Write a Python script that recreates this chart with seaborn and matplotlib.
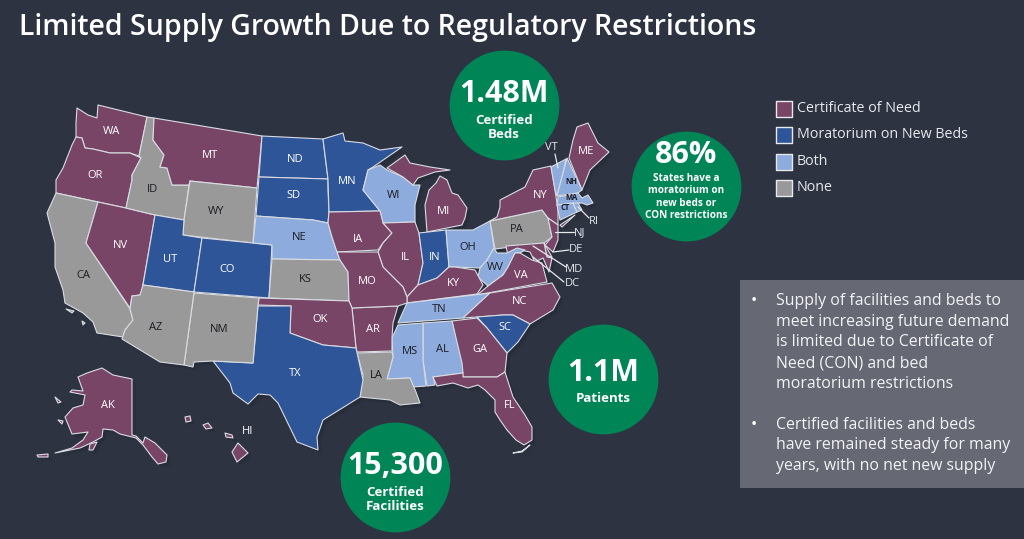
import matplotlib
matplotlib.use("Agg")
import matplotlib.pyplot as plt
import pandas as pd
import seaborn as sns

# ── Config ──────────────────────────────────────────────
sns.set_theme(style="white")
plt.rcParams["font.family"] = ["Open Sans", "DejaVu Sans"]

BG = "#2d3341"
COLORS = {
    "Certificate of Need": "#794567",
    "Moratorium on New Beds": "#2e5597",
    "Both": "#8dabdc",
    "None": "#999999",
}
DARK_TEXT = "#1c1c22"

# ── Data ────────────────────────────────────────────────
categories = list(COLORS)

con_states = ["WA", "OR", "NV", "MT", "IA", "MO", "IL", "MI", "NY", "NJ", "DE", "MD", "VA", "KY",
              "NC", "GA", "FL", "AR", "OK", "ME", "AK", "HI"]
moratorium_states = ["ND", "SD", "MN", "UT", "CO", "TX", "IN", "SC"]
both_states = ["NE", "WI", "OH", "WV", "TN", "MS", "AL", "VT", "NH", "MA", "CT", "RI"]
none_states = ["CA", "ID", "WY", "AZ", "NM", "KS", "LA", "PA"]

# state outlines, in picture pixels
outlines = {
    "WA": [[(77, 108), (88, 115), (97, 118), (98, 105), (147, 117), (139, 156), (130, 153), (110, 153), (93, 149),
            (85, 148), (82, 138), (76, 137), (76, 123)]],
    "OR": [[(76, 137), (82, 138), (85, 148), (93, 149), (110, 153), (130, 153), (141, 158), (132, 175), (132, 180),
            (126, 208), (56, 193), (56, 180), (63, 168), (72, 145)]],
    "CA": [[(56, 193), (98, 202), (86, 243), (130, 309), (133, 320), (125, 330), (123, 337), (97, 333), (93, 322),
            (83, 313), (65, 303), (63, 290), (55, 267), (55, 243), (47, 213)],
           [(66, 309), (74, 311), (72, 313)], [(82, 321), (85, 323), (83, 325)]],
    "NV": [[(98, 202), (126, 208), (155, 215), (142, 290), (140, 295), (132, 296), (130, 308), (86, 243)]],
    "ID": [[(147, 117), (154, 118), (153, 140), (164, 155), (160, 167), (167, 168), (172, 185), (189, 185),
            (184, 220), (155, 215), (126, 208), (132, 180), (132, 175), (141, 158), (139, 156)]],
    "MT": [[(154, 118), (262, 136), (257, 188), (190, 181), (189, 185), (172, 185), (167, 168), (160, 167),
            (164, 155), (153, 140)]],
    "WY": [[(190, 181), (257, 188), (253, 243), (183, 235), (184, 220)]],
    "UT": [[(155, 215), (184, 220), (183, 235), (202, 238), (194, 292), (143, 285)]],
    "CO": [[(202, 238), (253, 243), (272, 245), (269, 298), (194, 292)]],
    "ND": [[(262, 136), (323, 139), (328, 179), (259, 177)]],
    "SD": [[(259, 177), (328, 179), (328, 190), (329, 212), (328, 223), (313, 220), (256, 216)]],
    "NE": [[(256, 216), (313, 220), (328, 223), (332, 237), (340, 260), (272, 259), (272, 245), (253, 243)]],
    "KS": [[(272, 259), (340, 260), (348, 272), (349, 301), (269, 298)]],
    "MN": [[(323, 139), (343, 133), (345, 141), (363, 143), (380, 150), (402, 147), (373, 167), (368, 170), (363, 190),
            (380, 211), (329, 212), (328, 179)]],
    "WI": [[(368, 170), (380, 165), (387, 170), (403, 177), (413, 185), (420, 185), (415, 205), (415, 222), (383, 223),
            (380, 211), (363, 190)]],
    "MI": [[(387, 168), (405, 155), (410, 163), (430, 167), (450, 170), (435, 172), (418, 178), (413, 185), (403, 177)],
           [(425, 205), (429, 190), (436, 183), (440, 176), (447, 180), (452, 193), (458, 195), (467, 208), (465, 218),
            (462, 225), (427, 232)]],
    "IA": [[(329, 212), (380, 211), (383, 223), (392, 233), (383, 243), (378, 250), (337, 252), (332, 237), (328, 223)]],
    "IL": [[(383, 223), (415, 222), (419, 233), (423, 263), (418, 285), (407, 297), (403, 287), (383, 267), (378, 252),
            (383, 243), (392, 233)]],
    "IN": [[(419, 233), (446, 230), (449, 267), (437, 278), (418, 285), (423, 263)]],
    "OH": [[(446, 230), (473, 230), (490, 221), (494, 248), (487, 260), (480, 268), (455, 267), (449, 267)]],
    "PA": [[(490, 221), (542, 210), (548, 218), (552, 237), (544, 243), (495, 249)]],
    "NY": [[(490, 221), (497, 217), (500, 207), (500, 200), (525, 187), (533, 170), (551, 166), (555, 190), (558, 210),
            (558, 225), (548, 218), (542, 210)],
           [(560, 225), (575, 215), (562, 227)]],
    "NJ": [[(548, 218), (558, 225), (558, 240), (553, 252), (545, 245), (552, 237)]],
    "DE": [[(544, 243), (552, 257), (547, 257)]],
    "MD": [[(506, 246), (544, 243), (547, 257), (552, 258), (549, 272), (543, 258), (535, 262), (530, 252), (520, 250),
            (508, 256)]],
    "WV": [[(494, 248), (497, 253), (505, 253), (507, 253), (517, 248), (525, 250), (520, 253), (515, 253), (508, 267),
            (503, 275), (488, 286), (478, 277), (480, 268), (487, 260)]],
    "VA": [[(477, 295), (488, 286), (503, 275), (508, 267), (515, 253), (520, 253), (532, 260), (542, 263), (547, 282)]],
    "KY": [[(407, 297), (418, 285), (437, 278), (449, 267), (455, 267), (475, 270), (483, 285), (477, 294), (407, 303)]],
    "TN": [[(407, 303), (490, 293), (463, 318), (398, 323)]],
    "NC": [[(490, 293), (552, 283), (560, 297), (553, 310), (530, 324), (513, 315), (503, 315), (477, 317), (463, 318)]],
    "SC": [[(477, 317), (503, 315), (513, 315), (530, 324), (518, 342), (507, 353), (487, 328)]],
    "GA": [[(452, 321), (477, 318), (487, 328), (507, 353), (505, 372), (497, 377), (463, 377), (460, 360)]],
    "AL": [[(423, 323), (452, 321), (462, 363), (463, 373), (433, 377), (435, 385), (427, 386), (423, 360)]],
    "MS": [[(398, 325), (423, 323), (423, 360), (426, 386), (413, 387), (410, 378), (387, 379), (393, 357), (392, 338)]],
    "FL": [[(433, 377), (463, 373), (463, 377), (497, 377), (505, 372), (513, 397), (525, 415), (532, 427), (532, 440),
            (524, 445), (516, 440), (507, 430), (500, 420), (495, 412), (495, 400), (485, 390), (478, 385), (468, 388),
            (453, 383), (437, 386)],
           [(513, 453), (522, 451), (530, 445), (522, 452)]],
    "LA": [[(357, 353), (392, 352), (393, 357), (387, 379), (410, 378), (416, 392), (420, 403), (400, 405), (390, 400),
            (360, 397), (363, 375)]],
    "AR": [[(352, 308), (398, 306), (393, 323), (392, 338), (392, 351), (357, 352), (356, 348)]],
    "MO": [[(337, 252), (378, 252), (383, 267), (403, 287), (407, 297), (407, 303), (398, 306), (352, 308), (349, 301),
            (348, 272), (340, 260)]],
    "OK": [[(259, 298), (349, 301), (352, 308), (356, 348), (323, 345), (290, 333), (291, 306), (258, 305)]],
    "TX": [[(258, 306), (291, 306), (290, 333), (323, 345), (356, 348), (363, 380), (360, 397), (323, 420), (317, 437),
            (318, 450), (297, 442), (278, 403), (270, 395), (258, 394), (248, 404), (233, 393), (230, 383), (213, 361),
            (253, 363)]],
    "NM": [[(194, 293), (259, 298), (258, 305), (253, 363), (213, 361), (194, 362), (193, 367), (184, 365)]],
    "AZ": [[(143, 285), (194, 292), (184, 365), (160, 362), (122, 339), (125, 330), (133, 320), (130, 309), (132, 296),
            (140, 295)]],
    "AK": [[(78, 377), (87, 373), (102, 368), (113, 375), (132, 379), (132, 435), (136, 436), (143, 443), (145, 437),
            (155, 443), (167, 455), (166, 462), (158, 464), (152, 457), (143, 445), (136, 438), (120, 434), (113, 430),
            (103, 429), (102, 437), (93, 442), (80, 448), (55, 453), (72, 448), (83, 440), (88, 432), (80, 433),
            (72, 434), (65, 417), (73, 408), (83, 405), (85, 395), (70, 392), (72, 390), (83, 391)],
           [(37, 455), (48, 454), (48, 457), (38, 457)], [(90, 444), (97, 442), (93, 450), (89, 450)],
           [(58, 420), (63, 421), (62, 424)], [(55, 397), (61, 402), (58, 403)]],
    "HI": [[(232, 452), (238, 443), (248, 453), (237, 462)], [(225, 433), (232, 435), (233, 438), (226, 437)],
           [(203, 425), (208, 423), (212, 428), (206, 429)], [(185, 417), (190, 416), (191, 421), (186, 422)]],
    "ME": [[(569, 158), (573, 140), (577, 127), (588, 123), (598, 143), (609, 152), (590, 170), (582, 190)]],
    "VT": [[(551, 167), (566, 159), (563, 173), (557, 196), (555, 190)]],
    "NH": [[(567, 158), (582, 190), (578, 193), (557, 196), (563, 173)]],
    "MA": [[(558, 197), (578, 193), (582, 198), (588, 195), (593, 203), (587, 205), (582, 203), (557, 205)]],
    "CT": [[(557, 205), (573, 203), (577, 212), (560, 220)]],
    "RI": [[(573, 203), (578, 203), (582, 210), (577, 212)]],
}

white_labels = [("WA", 111, 131), ("OR", 95, 176), ("NV", 120, 246), ("MT", 210, 156), ("UT", 170, 260),
                ("CO", 227, 269), ("ND", 295, 160), ("SD", 294, 196), ("MN", 347, 181), ("IA", 358, 240),
                ("MO", 367, 282), ("OK", 320, 319), ("TX", 295, 374), ("AR", 373, 330), ("GA", 480, 350),
                ("FL", 510, 405), ("SC", 505, 327), ("NC", 520, 302), ("KY", 453, 284), ("VA", 521, 276),
                ("IN", 435, 257), ("IL", 405, 258), ("MI", 444, 212), ("NY", 540, 195), ("ME", 586, 152),
                ("AK", 108, 405), ("HI", 248, 432)]
dark_labels = [("CA", 83, 275), ("ID", 153, 189), ("WY", 216, 211), ("NE", 299, 237), ("KS", 305, 279),
               ("LA", 376, 375), ("MS", 410, 352), ("AL", 442, 350), ("TN", 439, 310), ("WV", 495, 267),
               ("OH", 468, 247), ("WI", 394, 195), ("PA", 517, 230), ("AZ", 156, 328), ("NM", 219, 329)]
small_labels = [("NH", 571, 182), ("MA", 572, 197), ("CT", 565, 208)]
# label, x, y, leader end x, leader end y, leader start x, leader start y
leader_labels = [("VT", 551, 147, 558, 168, 555, 154), ("RI", 594, 222, 578, 207, 589, 218),
                 ("NJ", 580, 233, 555, 232, 574, 232), ("DE", 576, 250, 553, 252, 569, 250),
                 ("MD", 574, 270, 533, 246, 566, 267), ("DC", 572, 284, 533, 257, 564, 282)]

circle_big = ["1.48M", "1.1M", "15,300"]
circle_big_sub = ["Certified\nBeds", "Patients", "Certified\nFacilities"]
circle_x = [504, 603, 395, 686]
circle_y = [105, 379, 477, 186]

title = "Limited Supply Growth Due to Regulatory Restrictions"
bullets = [["Supply of facilities and beds to", "meet increasing future demand", "is limited due to Certificate of",
            "Need (CON) and bed", "moratorium restrictions"],
           ["Certified facilities and beds", "have remained steady for many", "years, with no net new supply"]]

# ── Draw ────────────────────────────────────────────────
fig, ax = plt.subplots(figsize=(10.24, 5.39), dpi=100, facecolor=BG)
ax.set_position([0, 0, 1, 1])
ax.set_facecolor(BG)

state_colors = {}
for names, cat in zip([con_states, moratorium_states, both_states, none_states], categories):
    for name in names:
        state_colors[name] = COLORS[cat]

# soft drop shadow, then the states
for offset, alpha in [(4, 0.10), (2.5, 0.15)]:
    for parts in outlines.values():
        for part in parts:
            ax.fill([p[0] + offset for p in part], [p[1] + offset for p in part],
                    color="#14171f", alpha=alpha, lw=0, zorder=1)
for name, parts in outlines.items():
    for part in parts:
        ax.fill([p[0] for p in part], [p[1] for p in part], facecolor=state_colors[name],
                edgecolor="#d9dce3", lw=0.8, joinstyle="round", zorder=2)

for name, x, y in white_labels:
    ax.text(x, y, name, color="white", fontsize=8, ha="center", va="center", zorder=4)
for name, x, y in dark_labels:
    ax.text(x, y, name, color=DARK_TEXT, fontsize=8, ha="center", va="center", zorder=4)
for name, x, y in small_labels:
    ax.text(x, y, name, color=DARK_TEXT, fontsize=5.5, weight="bold", ha="center", va="center", zorder=4)
for name, x, y, ex, ey, sx, sy in leader_labels:
    ax.plot([sx, ex], [sy, ey], color="#e6e8ec", lw=0.9, zorder=3)
    ax.text(x, y, name, color="#e6e8ec", fontsize=8, ha="center", va="center", zorder=4)

# green stat circles
circles = pd.DataFrame({"x": circle_x, "y": circle_y})
sns.scatterplot(data=circles, x="x", y="y", s=6250, color="#008556", linewidth=0, legend=False, ax=ax, zorder=5)

ax.text(504, 94, circle_big[0], color="white", fontsize=22, weight="bold", ha="center", va="center", zorder=6)
ax.text(504, 127, circle_big_sub[0], color="white", fontsize=9.5, weight="bold", ha="center", va="center",
        linespacing=1.1, zorder=6)
ax.text(603, 373, circle_big[1], color="white", fontsize=22, weight="bold", ha="center", va="center", zorder=6)
ax.text(603, 399, circle_big_sub[1], color="white", fontsize=9.5, weight="bold", ha="center", va="center", zorder=6)
ax.text(395, 466, circle_big[2], color="white", fontsize=22, weight="bold", ha="center", va="center", zorder=6)
ax.text(395, 500, circle_big_sub[2], color="white", fontsize=9.5, weight="bold", ha="center", va="center",
        linespacing=1.1, zorder=6)
ax.text(686, 155, "86%", color="white", fontsize=22, weight="bold", ha="center", va="center", zorder=6)
ax.text(686, 197, "States have a\nmoratorium on\nnew beds or\nCON restrictions", color="white", fontsize=7.2,
        weight="bold", ha="center", va="center", linespacing=1.15, zorder=6)

# legend
legend_y = [109, 135, 162, 188]
legend_df = pd.DataFrame({"x": [784] * 4, "y": legend_y, "cat": categories})
sns.scatterplot(data=legend_df, x="x", y="y", hue="cat", palette=COLORS, marker="s", s=125, edgecolor="#e6e8ec",
                linewidth=1, legend=False, ax=ax, zorder=5)
for y, cat in zip(legend_y, categories):
    ax.text(797, y - 0.5, cat, color="#e6e8ec", fontsize=10.3, ha="left", va="center")

# text box
ax.fill([740, 1024, 1024, 740], [280, 280, 488, 488], color="#666973", lw=0, zorder=1)
line_y = [[301, 322, 342, 363, 384], [425, 445, 466]]
for group, ys in zip(bullets, line_y):
    ax.text(754, ys[0], "•", color="white", fontsize=12, ha="center", va="center", zorder=6)
    for line, y in zip(group, ys):
        ax.text(776, y, line, color="#f2f3f5", fontsize=11.45, ha="left", va="center", zorder=6)

ax.text(19, 27, title, color="white", fontsize=20.5, weight="semibold", ha="left", va="center", zorder=6)

ax.set_xlim(0, 1024)
ax.set_ylim(539, 0)
ax.axis("off")

fig.savefig("out.png", dpi=100, facecolor=BG)
